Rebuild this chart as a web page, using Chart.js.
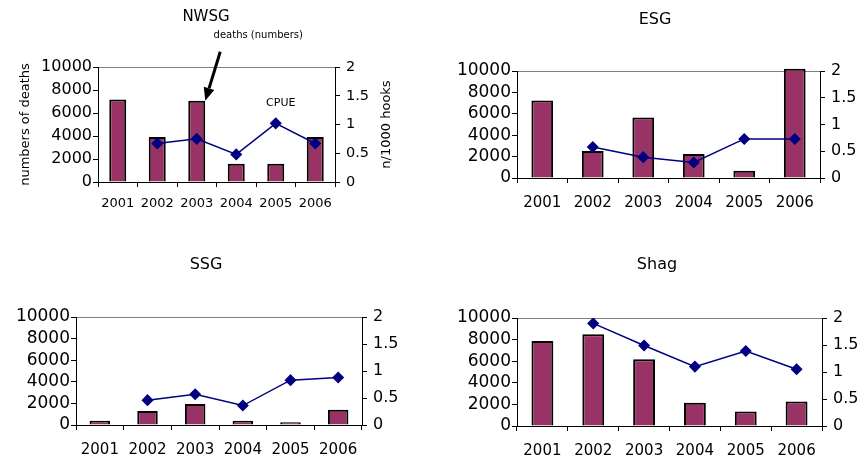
<!DOCTYPE html>
<html>
<head>
<meta charset="utf-8">
<script src="https://cdn.jsdelivr.net/npm/chart.js@4.4.1/dist/chart.umd.min.js"></script>
<style>
  body { margin: 0; background: #fff; }
  canvas { position: absolute; }
</style>
</head>
<body>
<canvas id="nwsg" width="433" height="230" style="left:0;top:0"></canvas>
<canvas id="esg" width="433" height="230" style="left:433px;top:0"></canvas>
<canvas id="ssg" width="433" height="231" style="left:0;top:230px"></canvas>
<canvas id="shag" width="433" height="231" style="left:433px;top:230px"></canvas>
<script>
// data
const years = ['2001', '2002', '2003', '2004', '2005', '2006'];
const deathTicks = [0, 2000, 4000, 6000, 8000, 10000];
const cpueTicks = [0, 0.5, 1, 1.5, 2];

const nwsgDeaths = [7180, 3920, 7060, 1580, 1580, 3920];
const nwsgCpue = [null, 0.67, 0.75, 0.48, 1.02, 0.67];
const esgDeaths = [7240, 2520, 5650, 2240, 680, 10200];
const esgCpue = [null, 0.58, 0.39, 0.29, 0.73, 0.73];
const ssgDeaths = [400, 1290, 1940, 400, 250, 1420];
const ssgCpue = [null, 0.46, 0.57, 0.36, 0.83, 0.88];
const shagDeaths = [7880, 8490, 6190, 2150, 1350, 2280];
const shagCpue = [null, 1.90, 1.49, 1.10, 1.39, 1.05];

const plum = '#993366';
const navy = '#000080';
const FONT = 'DejaVu Sans';

// per panel layout (chart area edges in canvas pixels)
const panels = [
  { id: 'nwsg', title: 'NWSG', deaths: nwsgDeaths, cpue: nwsgCpue,
    left: 98, right: 335, top: 67, bottom: 182, titleX: 206, titleY: 17, titleSize: 15,
    yFont: 16, xFont: 13, y1Font: 14.5, xPad: 9,
    leftTitle: 'numbers of deaths', rightTitle: 'n/1000 hooks', notes: true },
  { id: 'esg', title: 'ESG', deaths: esgDeaths, cpue: esgCpue,
    left: 84, right: 387, top: 71, bottom: 178, titleX: 222, titleY: 20, titleSize: 16,
    yFont: 17, xFont: 15, y1Font: 16, xPad: 11 },
  { id: 'ssg', title: 'SSG', deaths: ssgDeaths, cpue: ssgCpue,
    left: 76, right: 362, top: 87, bottom: 195, titleX: 206, titleY: 35, titleSize: 16,
    yFont: 17, xFont: 15, y1Font: 16, xPad: 11 },
  { id: 'shag', title: 'Shag', deaths: shagDeaths, cpue: shagCpue,
    left: 84, right: 389, top: 88, bottom: 196, titleX: 224, titleY: 35, titleSize: 16,
    yFont: 17, xFont: 15, y1Font: 16, xPad: 11 }
];
const panelById = {};
panels.forEach(p => { panelById[p.id] = p; });

function drawNotes(chart, ctx) {
  // arrow pointing at the top right corner of the 2003 bar
  const bar = chart.getDatasetMeta(0).data[2];
  const tipX = bar.x + bar.width / 2, tipY = bar.y;
  const tailX = tipX + 15, tailY = tipY - 49;
  const ang = Math.atan2(tipY - tailY, tipX - tailX);
  const headLen = 13, headW = 5.5;
  const baseX = tipX - headLen * Math.cos(ang), baseY = tipY - headLen * Math.sin(ang);
  ctx.strokeStyle = '#000';
  ctx.lineWidth = 3;
  ctx.beginPath();
  ctx.moveTo(tailX, tailY);
  ctx.lineTo(baseX, baseY);
  ctx.stroke();
  ctx.fillStyle = '#000';
  ctx.beginPath();
  ctx.moveTo(tipX, tipY);
  ctx.lineTo(baseX + headW * Math.sin(ang), baseY - headW * Math.cos(ang));
  ctx.lineTo(baseX - headW * Math.sin(ang), baseY + headW * Math.cos(ang));
  ctx.closePath();
  ctx.fill();

  ctx.textAlign = 'center';
  ctx.textBaseline = 'middle';
  ctx.font = '10px "' + FONT + '"';
  ctx.fillText('deaths (numbers)', tailX + 38, tailY - 16);

  const pt = chart.getDatasetMeta(1).data[4];
  ctx.font = '11px "' + FONT + '"';
  ctx.fillText('CPUE', pt.x + 5, pt.y - 20);
}

const panelDecor = {
  id: 'panelDecor',
  beforeDraw(chart) {
    const a = chart.chartArea, ctx = chart.ctx;
    ctx.save();
    ctx.strokeStyle = '#808080';
    ctx.lineWidth = 1;
    ctx.beginPath();
    ctx.moveTo(a.left, Math.round(a.top) + 0.5);
    ctx.lineTo(a.right, Math.round(a.top) + 0.5);
    ctx.stroke();
    ctx.restore();
  },
  afterDraw(chart) {
    const p = panelById[chart.canvas.id];
    const a = chart.chartArea, ctx = chart.ctx;
    ctx.save();
    ctx.fillStyle = '#000';
    ctx.textAlign = 'center';
    ctx.textBaseline = 'middle';
    ctx.font = p.titleSize + 'px "' + FONT + '"';
    ctx.fillText(p.title, p.titleX, p.titleY);
    if (p.rightTitle) {
      ctx.save();
      ctx.translate(a.right + 52, (a.top + a.bottom) / 2);
      ctx.rotate(-Math.PI / 2);
      ctx.font = '13px "' + FONT + '"';
      ctx.fillText(p.rightTitle, 0, 0);
      ctx.restore();
    }
    if (p.notes) drawNotes(chart, ctx);
    ctx.restore();
  }
};

function buildChart(p) {
  const canvas = document.getElementById(p.id);
  return new Chart(canvas, {
    type: 'bar',
    data: {
      labels: years,
      datasets: [
        {
          type: 'bar',
          data: p.deaths,
          yAxisID: 'y',
          order: 1,
          backgroundColor: plum,
          borderColor: '#000',
          borderWidth: 2,
          categoryPercentage: 0.43,
          barPercentage: 1,
          clip: false
        },
        {
          type: 'line',
          data: p.cpue,
          yAxisID: 'y1',
          order: 0,
          borderColor: navy,
          borderWidth: 1.5,
          pointStyle: 'rectRot',
          pointRadius: 5,
          pointBackgroundColor: navy,
          pointBorderColor: navy,
          tension: 0
        }
      ]
    },
    options: {
      responsive: false,
      animation: false,
      layout: { padding: { top: p.top, left: 0, right: 0, bottom: 0 } },
      plugins: { legend: { display: false }, tooltip: { enabled: false } },
      scales: {
        x: {
          offset: true,
          grid: { offset: true, drawOnChartArea: false, tickLength: 5, color: '#000' },
          border: { color: '#000' },
          ticks: { color: '#000', font: { family: FONT, size: p.xFont }, padding: p.xPad, maxRotation: 0, autoSkip: false },
          afterFit: s => { s.height = canvas.height - p.bottom; }
        },
        y: {
          position: 'left',
          min: 0,
          max: 10000,
          afterBuildTicks: s => { s.ticks = deathTicks.map(v => ({ value: v })); },
          ticks: { color: '#000', font: { family: FONT, size: p.yFont }, padding: 1, autoSkip: false, callback: v => String(v) },
          grid: { drawOnChartArea: false, tickLength: 5, color: '#000' },
          border: { color: '#000' },
          title: {
            display: !!p.leftTitle,
            text: p.leftTitle || '',
            color: '#000',
            font: { family: FONT, size: 13 },
            padding: { top: 18, bottom: 0 }
          },
          afterFit: s => { s.width = p.left; }
        },
        y1: {
          position: 'right',
          min: 0,
          max: 2,
          afterBuildTicks: s => { s.ticks = cpueTicks.map(v => ({ value: v })); },
          ticks: { color: '#000', font: { family: FONT, size: p.y1Font }, padding: 6, autoSkip: false, callback: v => String(v) },
          grid: { drawOnChartArea: false, tickLength: 5, color: '#000' },
          border: { color: '#000' },
          afterFit: s => { s.width = canvas.width - p.right; }
        }
      }
    },
    plugins: [panelDecor]
  });
}

panels.forEach(buildChart);
</script>
</body>
</html>
